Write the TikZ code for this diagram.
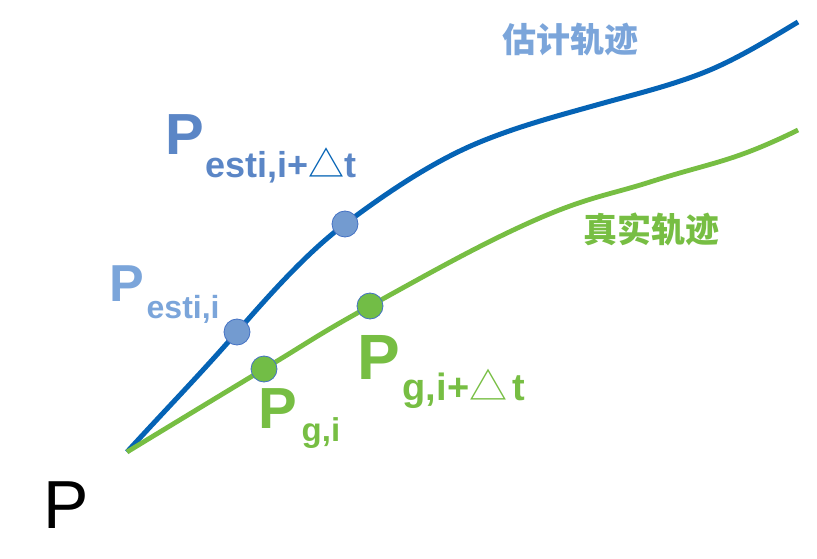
\documentclass[tikz,border=0pt]{standalone}
\usepackage{fontspec}
\setmainfont{Liberation Sans}
\newfontfamily\cjk{Noto Sans CJK SC}
\definecolor{estline}{RGB}{5,99,181}
\definecolor{estdot}{RGB}{115,155,208}
\definecolor{estlab}{RGB}{91,134,198}
\definecolor{estlight}{RGB}{123,165,218}
\definecolor{gline}{RGB}{119,190,67}
\definecolor{gdot}{RGB}{114,189,70}
\definecolor{dotrim}{RGB}{68,114,196}
\tikzset{
  lab/.style={inner sep=0pt, anchor=base west, font=\bfseries},
  ptdot/.style={circle, minimum size=26pt, inner sep=0pt, draw=dotrim, line width=0.8pt},
}
\newcommand{\fs}[1]{\fontsize{#1}{#1}\selectfont}
\begin{document}
\begin{tikzpicture}[x=1pt,y=-1pt]
\useasboundingbox (0,0) rectangle (817,559);
% curves
\coordinate (o) at (127,452);
\coordinate (bend) at (798,22);
\coordinate (gend) at (798,130);
\draw[estline, line width=5pt] (o)
  .. controls (163.7,411.7) and (200.3,374.2) .. (237,332)
  .. controls (273,290.6) and (309,251) .. (345,224)
  .. controls (390,190.2) and (435,160.5) .. (480,142)
  .. controls (520,125.6) and (560,115.2) .. (600,104)
  .. controls (633.3,94.7) and (666.7,86.7) .. (700,74)
  .. controls (732.7,61.6) and (765.3,41.6) .. (bend);
\draw[gline, line width=4.8pt] plot[smooth, tension=0.7] coordinates {(127,452) (264,369) (370,306) (533,221) (650,182) (740,155) (798,130)};
% dots
\node[ptdot, fill=estdot] (e1) at (237,332) {};
\node[ptdot, fill=estdot] (e2) at (345,224) {};
\node[ptdot, fill=gdot] (g1) at (264,369) {};
\node[ptdot, fill=gdot] (g2) at (370,306) {};
% labels
\node[lab, text=estlab, font=\bfseries\fs{58}] (pe2) at (165,155) {P};
\node[lab, text=estlab, font=\bfseries\fs{36}] (se2) at (205.5,178) {esti,i+{\cjk\color{estline}\mdseries △}t};
\node[lab, text=estlight, font=\bfseries\fs{52}] (pe1) at (109,301) {P};
\node[lab, text=estlight, font=\bfseries\fs{32}] (se1) at (146.5,318) {esti,i};
\node[lab, text=gline, font=\bfseries\fs{58}] (pg1) at (258.5,428) {P};
\node[lab, text=gline, font=\bfseries\fs{33}] (sg1) at (301.5,441) {g,i};
\node[lab, text=gline, font=\bfseries\fs{64}] (pg2) at (357.5,379) {P};
\node[lab, text=gline, font=\bfseries\fs{38}] (sg2) at (402.5,400) {g,i+{\cjk\mdseries △}\hspace{5pt}t};
\node[inner sep=0pt, anchor=base west, font=\fs{68}] (p0) at (43,528) {P};
\node[inner sep=0pt, text=estlight, font=\cjk\bfseries\fs{34}] (t1) at (570,40) {估计轨迹};
\node[inner sep=0pt, text=gline, font=\cjk\bfseries\fs{34}] (t2) at (651,229) {真实轨迹};
\end{tikzpicture}
\end{document}
